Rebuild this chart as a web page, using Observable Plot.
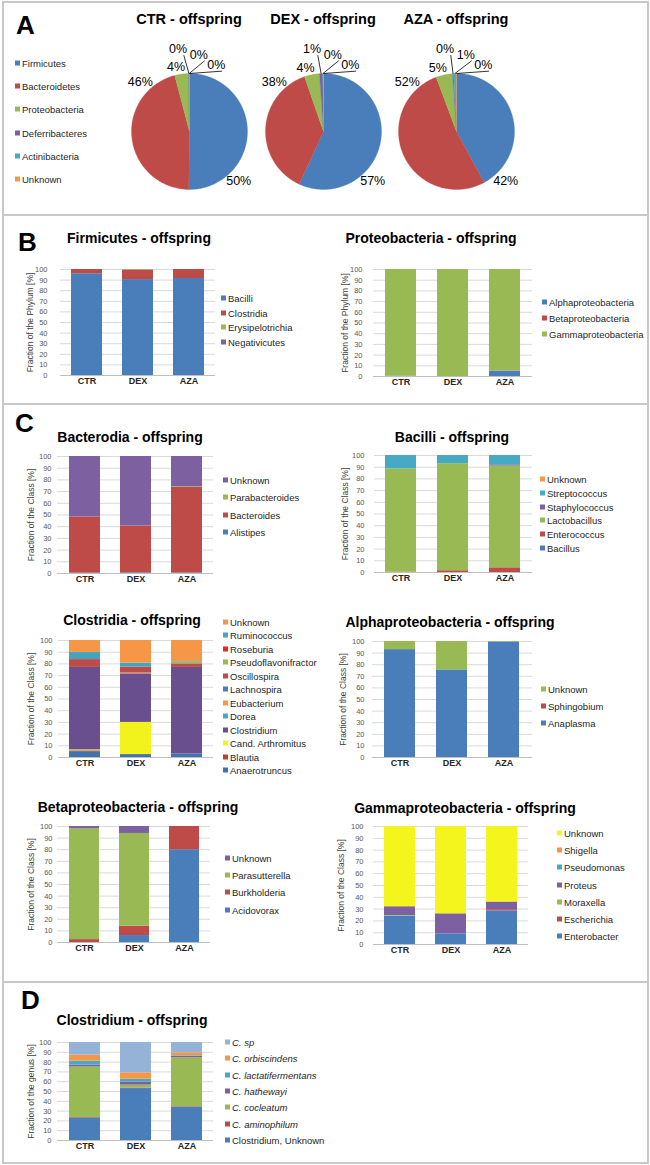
<!DOCTYPE html>
<html><head><meta charset="utf-8">
<script src="https://cdn.jsdelivr.net/npm/d3@7"></script>
<script src="https://cdn.jsdelivr.net/npm/@observablehq/plot@0.6"></script>
<style>
body{margin:0;background:#fff;font-family:"Liberation Sans",Arial,sans-serif;}
#fig{position:relative;width:650px;height:1165px;overflow:hidden;background:#fff;}
.title{position:absolute;font-weight:bold;font-size:14px;transform:translate(-50%,-50%);white-space:nowrap;color:#000;}
.letter{position:absolute;font-weight:bold;font-size:26px;line-height:26px;transform:translateY(-50%);color:#000;}
.leg{position:absolute;font-size:9.5px;line-height:11px;color:#262626;white-space:nowrap;transform:translateY(-50%);}
.leg i.sq{display:inline-block;width:5px;height:5px;margin-right:2px;vertical-align:1px;}
.hl{position:absolute;background:#c8c8c8;}
</style></head><body><div id="fig"></div>
<script>
const FONT = '"Liberation Sans", Arial, sans-serif';
const groups = ["CTR", "DEX", "AZA"];
const yTicks = [0, 10, 20, 30, 40, 50, 60, 70, 80, 90, 100];

// Panel A – phyla (pie charts)
const phyla = ["Firmicutes", "Bacteroidetes", "Proteobacteria", "Deferribacteres", "Actinibacteria", "Unknown"];
const phylaColors = ["#4a7ebb", "#be4b48", "#98b954", "#7d60a0", "#46aac5", "#f79646"];
const phylumCTR = [50.2, 45.7, 3.9, 0.1, 0.05, 0.05];
const phylumDEX = [56.9, 37.8, 4.2, 0.9, 0.1, 0.1];
const phylumAZA = [42.1, 52.2, 4.6, 0.3, 0.7, 0.1];

// Panel B
const firmSeries = ["Bacilli", "Clostridia", "Erysipelotrichia", "Negativicutes"];
const firmColors = ["#4a7ebb", "#be4b48", "#98b954", "#7d60a0"];
const firmCTR = [96, 4, 0, 0];
const firmDEX = [90.5, 9, 0.5, 0];
const firmAZA = [91.5, 8.5, 0, 0];

const proteoSeries = ["Alphaproteobacteria", "Betaproteobacteria", "Gammaproteobacteria"];
const proteoColors = ["#4a7ebb", "#be4b48", "#98b954"];
const proteoCTR = [0.3, 0, 99.7];
const proteoDEX = [0, 0, 100];
const proteoAZA = [5, 0.2, 94.8];

// Panel C
const bactSeries = ["Alistipes", "Bacteroides", "Parabacteroides", "Unknown"];
const bactColors = ["#4a7ebb", "#be4b48", "#98b954", "#7d60a0"];
const bactCTR = [0.3, 48, 0, 51.7];
const bactDEX = [0.6, 40, 0, 59.4];
const bactAZA = [0.5, 73, 0.6, 25.9];

const bacilliSeries = ["Bacillus", "Enterococcus", "Lactobacillus", "Staphylococcus", "Streptococcus", "Unknown"];
const bacilliColors = ["#4a7ebb", "#be4b48", "#98b954", "#7d60a0", "#46aac5", "#f79646"];
const bacilliCTR = [0, 0.3, 88.3, 0, 11.4, 0];
const bacilliDEX = [0, 1.5, 91.5, 0, 7, 0];
const bacilliAZA = [0, 4, 87, 1, 8, 0];

const clostSeries = ["Anaerotruncus", "Blautia", "Cand. Arthromitus", "Clostridium", "Dorea", "Eubacterium", "Lachnospira", "Oscillospira", "Pseudoflavonifractor", "Roseburia", "Ruminococcus", "Unknown"];
const clostColors = ["#3f72b0", "#b8403d", "#f2f21c", "#6a4f8f", "#46aac5", "#f79646", "#4a7ebb", "#be4b48", "#98b954", "#e8262a", "#3fa6c0", "#f79646"];
const clostCTR = [5, 0.7, 0.8, 70.5, 0, 0, 0, 6, 0, 0.7, 6, 10.3];
const clostDEX = [2.5, 0, 27.5, 41.5, 0, 0.7, 0, 5, 0, 0, 3.5, 19.3];
const clostAZA = [3, 0, 0, 74, 0, 0, 0, 3, 1.5, 0, 0.5, 18];

const alphaSeries = ["Anaplasma", "Sphingobium", "Unknown"];
const alphaColors = ["#4a7ebb", "#be4b48", "#98b954"];
const alphaCTR = [93, 0, 7];
const alphaDEX = [75.5, 0, 24.5];
const alphaAZA = [99.5, 0, 0.5];

const betaSeries = ["Acidovorax", "Burkholderia", "Parasutterella", "Unknown"];
const betaColors = ["#4a7ebb", "#be4b48", "#98b954", "#7d60a0"];
const betaCTR = [0, 2.5, 95.5, 2];
const betaDEX = [6, 8, 80, 6];
const betaAZA = [80, 20, 0, 0];

const gammaSeries = ["Enterobacter", "Escherichia", "Moraxella", "Proteus", "Pseudomonas", "Shigella", "Unknown"];
const gammaColors = ["#4a7ebb", "#be4b48", "#98b954", "#7d60a0", "#46aac5", "#f79646", "#f5f51e"];
const gammaCTR = [24, 0, 0.5, 7.5, 0, 0, 68];
const gammaDEX = [9, 0, 0, 17, 0, 0, 74];
const gammaAZA = [28.5, 1, 0, 6.5, 0, 0, 64];

// Panel D
const genusSeries = ["Clostridium, Unknown", "C. aminophilum", "C. cocleatum", "C. hathewayi", "C. lactatifermentans", "C. orbiscindens", "C. sp"];
const genusColors = ["#4a7ebb", "#be4b48", "#98b954", "#7d60a0", "#46aac5", "#f79646", "#95b3d7"];
const genusCTR = [23, 0.5, 51.5, 2, 4, 6, 13];
const genusDEX = [53, 0.5, 3, 3, 3, 6.5, 31];
const genusAZA = [34, 0.5, 50, 1.5, 0.5, 3, 10.5];

const fig = document.getElementById("fig");
function addDiv(cls, html, style) {
  const d = document.createElement("div");
  d.className = cls; d.innerHTML = html; Object.assign(d.style, style); fig.appendChild(d); return d;
}
function place(el, left, top) {
  el.style.position = "absolute"; el.style.left = left + "px"; el.style.top = top + "px"; fig.appendChild(el);
}

// frame
addDiv("hl", "", {left: "2px", top: "1px", width: "646px", height: "1.5px"});
addDiv("hl", "", {left: "2px", top: "1162px", width: "646px", height: "1.5px"});
addDiv("hl", "", {left: "2px", top: "1px", width: "1.5px", height: "1163px"});
addDiv("hl", "", {left: "647px", top: "1px", width: "1.5px", height: "1163px"});
[214, 403, 981].forEach(y => addDiv("hl", "", {left: "2px", top: y + "px", width: "646px", height: "1.5px"}));

// panel letters
addDiv("letter", "A", {left: "16px", top: "25px"});
addDiv("letter", "B", {left: "18px", top: "242px"});
addDiv("letter", "C", {left: "15px", top: "423px"});
addDiv("letter", "D", {left: "21px", top: "1000px"});

function legend(series, colors, sqX, yFirst, step, reverse, italic) {
  const idx = series.map((_, i) => i);
  if (reverse) idx.reverse();
  idx.forEach((si, k) => {
    const it = italic && series[si].startsWith("C. ");
    addDiv("leg", `<i class="sq" style="background:${colors[si]}"></i><span style="${it ? "font-style:italic" : ""}">${series[si]}</span>`,
      {left: sqX + "px", top: (yFirst + k * step) + "px"});
  });
}

// ---------- Pies ----------
function pie(vals, cx, cy, title) {
  const R = 58, half = 100, K = half / R;
  const total = d3.sum(vals);
  let acc = 0;
  const slices = phyla.map((p, i) => {
    const a0 = acc / total * 2 * Math.PI; acc += vals[i]; const a1 = acc / total * 2 * Math.PI;
    return {p, v: vals[i], a0, a1, pct: Math.round(vals[i] / total * 100)};
  });
  const pts = [];
  for (const s of slices) {
    if (s.a1 - s.a0 <= 0) continue;
    pts.push({p: s.p, x: 0, y: 0});
    const n = Math.max(2, Math.ceil((s.a1 - s.a0) / (Math.PI / 180)));
    for (let j = 0; j <= n; j++) {
      const a = s.a0 + (s.a1 - s.a0) * j / n;
      pts.push({p: s.p, x: Math.sin(a), y: Math.cos(a)});
    }
    pts.push({p: s.p, x: 0, y: 0});
  }
  const labels = [], leaders = [];
  const diagonals = [135, 315].map(d => d * Math.PI / 180);
  let k = 0;
  for (const s of slices) {
    const share = s.v / total * 100;
    const mid = (s.a0 + s.a1) / 2;
    if (share >= 10) {
      const d = diagonals.find(a => a > s.a0 && a < s.a1);
      const a = d ?? mid;
      labels.push({x: 1.2 * Math.sin(a), y: 1.2 * Math.cos(a), t: s.pct + "%"});
    } else if (share >= 2) {
      labels.push({x: 1.14 * Math.sin(mid) - 0.08, y: 1.12 * Math.cos(mid), t: s.pct + "%"});
    } else {
      const a = (-8 + 15 * k) * Math.PI / 180, r = 1.43 - 0.1 * k;
      const lx = r * Math.sin(a), ly = r * Math.cos(a);
      labels.push({x: lx, y: ly, t: s.pct + "%"});
      leaders.push({x1: lx + 0.1, y1: ly - 0.1, x2: Math.sin(mid), y2: Math.cos(mid)});
      k++;
    }
  }
  const plot = Plot.plot({
    width: 2 * half, height: 2 * half, margin: 0,
    style: {background: "transparent", fontFamily: FONT, overflow: "visible"},
    x: {domain: [-K, K], axis: null}, y: {domain: [-K, K], axis: null},
    color: {domain: phyla, range: phylaColors},
    marks: [
      Plot.line(pts, {x: "x", y: "y", z: "p", fill: "p", stroke: "p", strokeWidth: 0.3, curve: "linear"}),
      Plot.link(leaders, {x1: "x1", y1: "y1", x2: "x2", y2: "y2", stroke: "#000", strokeWidth: 0.8}),
      Plot.text(labels, {x: "x", y: "y", text: "t", fontSize: 12.5, fill: "#000"})
    ]
  });
  place(plot, cx - half, cy - half);
  addDiv("title", title, {left: cx + "px", top: "19px", fontSize: "14.5px"});
}
pie(phylumCTR, 189, 131, "CTR - offspring");
pie(phylumDEX, 323, 131, "DEX - offspring");
pie(phylumAZA, 456, 131, "AZA - offspring");
legend(phyla, phylaColors, 15, 63, 23.2, false, false);

// ---------- Stacked bars ----------
function bars(o) {
  const vals = [o.ctr, o.dex, o.aza];
  const rows = [];
  groups.forEach((g, gi) => vals[gi].forEach((v, si) => rows.push({group: g, series: o.series[si], value: v})));
  const ml = 70, mr = 6, mt = 8, mb = 22;
  const w = ml + (o.x1 - o.x0) + mr, h = mt + (o.y0 - o.y100) + mb;
  const plot = Plot.plot({
    width: w, height: h, marginLeft: ml, marginRight: mr, marginTop: mt, marginBottom: mb,
    style: {background: "transparent", fontFamily: FONT, overflow: "visible"},
    x: {domain: groups, paddingInner: 0.4, paddingOuter: 0.21, axis: null},
    y: {domain: [0, 100], axis: null},
    color: {domain: o.series, range: o.colors},
    marks: [
      Plot.ruleY(yTicks.slice(1), {stroke: "#d9d9d9", strokeWidth: 1}),
      Plot.barY(rows, {x: "group", y: "value", fill: "series"}),
      Plot.ruleY([0], {stroke: "#bfbfbf", strokeWidth: 1}),
      Plot.text(yTicks, {y: d => d, text: d => String(d), frameAnchor: "left", textAnchor: "end", dx: -o.gap, fontSize: 7.5, fill: "#595959"}),
      Plot.text(groups, {x: d => d, text: d => d, frameAnchor: "bottom", dy: 8, fontSize: 9, fontWeight: "bold", fill: "#262626"}),
      Plot.text([o.ylabel], {frameAnchor: "left", textAnchor: "middle", rotate: -90, dx: o.ylx - o.x0, fontSize: 8.5, fill: "#404040"})
    ]
  });
  place(plot, o.x0 - ml, o.y100 - mt);
  addDiv("title", o.title, {left: o.tx + "px", top: o.ty + "px"});
  legend(o.series, o.colors, o.lx, o.ly, o.ls, o.rev, o.italic);
}

const phylumLabel = "Fraction of the Phylum [%]";
const classLabel = "Fraction of the Class [%]";

bars({title: "Firmicutes - offspring", tx: 139, ty: 238, series: firmSeries, colors: firmColors, ctr: firmCTR, dex: firmDEX, aza: firmAZA,
  x0: 60, x1: 215, y100: 269, y0: 375, gap: 13, ylabel: phylumLabel, ylx: 30, lx: 221, ly: 298, ls: 14.6, rev: false});
bars({title: "Proteobacteria - offspring", tx: 431, ty: 238, series: proteoSeries, colors: proteoColors, ctr: proteoCTR, dex: proteoDEX, aza: proteoAZA,
  x0: 373, x1: 532, y100: 269, y0: 376, gap: 11, ylabel: phylumLabel, ylx: 345, lx: 542, ly: 302, ls: 16, rev: false});

bars({title: "Bacterodia - offspring", tx: 130, ty: 437, series: bactSeries, colors: bactColors, ctr: bactCTR, dex: bactDEX, aza: bactAZA,
  x0: 57, x1: 213, y100: 455.5, y0: 572.5, gap: 6, ylabel: classLabel, ylx: 31, lx: 223, ly: 480, ls: 17.4, rev: true});
bars({title: "Bacilli - offspring", tx: 452, ty: 437, series: bacilliSeries, colors: bacilliColors, ctr: bacilliCTR, dex: bacilliDEX, aza: bacilliAZA,
  x0: 374, x1: 532, y100: 455, y0: 572, gap: 10, ylabel: classLabel, ylx: 345, lx: 540, ly: 479, ls: 13.8, rev: true});

bars({title: "Clostridia - offspring", tx: 132, ty: 620, series: clostSeries, colors: clostColors, ctr: clostCTR, dex: clostDEX, aza: clostAZA,
  x0: 58, x1: 213, y100: 640, y0: 757, gap: 6, ylabel: classLabel, ylx: 31, lx: 223, ly: 622, ls: 13.45, rev: true});
bars({title: "Alphaproteobacteria - offspring", tx: 450, ty: 622, series: alphaSeries, colors: alphaColors, ctr: alphaCTR, dex: alphaDEX, aza: alphaAZA,
  x0: 372, x1: 532, y100: 641, y0: 757, gap: 8, ylabel: classLabel, ylx: 343, lx: 541, ly: 689, ls: 17, rev: true});

bars({title: "Betaproteobacteria - offspring", tx: 138, ty: 807, series: betaSeries, colors: betaColors, ctr: betaCTR, dex: betaDEX, aza: betaAZA,
  x0: 57, x1: 210, y100: 826, y0: 942, gap: 5, ylabel: classLabel, ylx: 31, lx: 225, ly: 858, ls: 17.2, rev: true});
bars({title: "Gammaproteobacteria - offspring", tx: 465, ty: 808, series: gammaSeries, colors: gammaColors, ctr: gammaCTR, dex: gammaDEX, aza: gammaAZA,
  x0: 373, x1: 528, y100: 826, y0: 944, gap: 10, ylabel: classLabel, ylx: 341, lx: 557, ly: 833, ls: 17.2, rev: true});

bars({title: "Clostridium - offspring", tx: 132, ty: 1020, series: genusSeries, colors: genusColors, ctr: genusCTR, dex: genusDEX, aza: genusAZA,
  x0: 57, x1: 213, y100: 1042, y0: 1140, gap: 6, ylabel: "Fraction of the genus [%]", ylx: 31, lx: 225, ly: 1042, ls: 16.3, rev: true, italic: true});
</script></body></html>
